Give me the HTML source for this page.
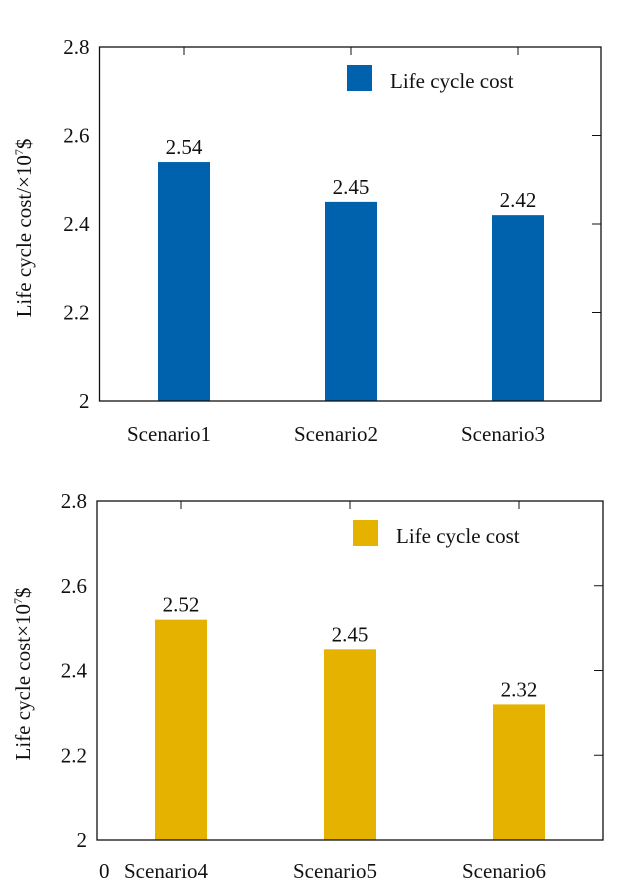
<!DOCTYPE html>
<html><head><meta charset="utf-8"><style>
html,body{margin:0;padding:0;background:#fff;}
svg{display:block;font-family:"Liberation Serif",serif;}
</style></head><body>
<svg id="chart" width="619" height="889" viewBox="0 0 619 889" xmlns="http://www.w3.org/2000/svg"></svg>
<script>
const categoriesTop = ["Scenario1","Scenario2","Scenario3"];
const valuesTop = [2.54,2.45,2.42];
const categoriesBottom = ["Scenario4","Scenario5","Scenario6"];
const valuesBottom = [2.52,2.45,2.32];
const yTicks = [2,2.2,2.4,2.6,2.8];
const yTickLabels = ["2","2.2","2.4","2.6","2.8"];
const legendLabel = "Life cycle cost";

const NS="http://www.w3.org/2000/svg";
const svg=document.getElementById('chart');
function mk(tag,attrs,parent){const e=document.createElementNS(NS,tag);for(const k in attrs)e.setAttribute(k,attrs[k]);(parent||svg).appendChild(e);return e;}

function drawPanel(cfg){
  const g=mk('g',{});
  
  
  const {x0,x1,y0,y1}=cfg;
  const yScale=v=>y1-(v-2)/(2.8-2)*(y1-y0);
  const step=(cfg.c2-cfg.c0)/2;
  const xScale=i=>cfg.c0+i*step;
  cfg.values.forEach((v,i)=>{
    const cx=xScale(i);
    const b=mk('rect',{x:cx-26,y:yScale(v),width:52,height:yScale(2)-yScale(v),fill:cfg.color},g);
    
    
    const t=mk('text',{x:cx,y:yScale(v)-8,'text-anchor':'middle','font-size':21,fill:'#111'},g);
    
    
    t.textContent=v.toFixed(2);
    const tk=mk('line',{x1:cx,x2:cx,y1:y0,y2:y0+8,stroke:'#111','stroke-width':1},g);
    
    
    const xl=mk('text',{x:cx-15,y:cfg.xlabY,'text-anchor':'middle','font-size':21,fill:'#111'},g);
    
    
    xl.textContent=cfg.cats[i];
  });
  const fr=mk('rect',{x:x0,y:y0,width:x1-x0,height:y1-y0,fill:'none',stroke:'#111','stroke-width':1.3},g);
  
  
  yTicks.forEach((v,i)=>{
    const y=yScale(v);
    if(i>0&&i<yTicks.length-1){
      const rt=mk('line',{x1:x1-9,x2:x1,y1:y,y2:y,stroke:'#111','stroke-width':1},g);
      
      
    }
    const t=mk('text',{x:x0-10,y:y+7,'text-anchor':'end','font-size':21,fill:'#111'},g);
    
    
    t.textContent=yTickLabels[i];
  });
  const ls=mk('rect',{x:cfg.legX,y:cfg.legY,width:25,height:26,fill:cfg.color},g);
  
  
  const lt=mk('text',{x:cfg.legX+43,y:cfg.legY+23,'font-size':21,fill:'#111'},g);
  
  
  lt.textContent=legendLabel;
  const yt=mk('text',{x:0,y:0,'text-anchor':'middle','font-size':21,fill:'#111',transform:`translate(${cfg.ytX},${cfg.ytY}) rotate(-90)`},g);
  
  
  yt.innerHTML=cfg.ytitle+'10<tspan font-size="12" dy="-8">7</tspan><tspan dy="8">$</tspan>';
  return g;
}

drawPanel({name:'top-chart',x0:99.5,x1:601,y0:47,y1:401,c0:184,c2:518,values:valuesTop,cats:categoriesTop,color:'#0062AC',xlabY:441,legX:347,legY:65,ytX:31,ytY:228,ytitle:'Life cycle cost/×'});
drawPanel({name:'bottom-chart',x0:97,x1:603,y0:501,y1:840,c0:181,c2:519,values:valuesBottom,cats:categoriesBottom,color:'#E5B200',xlabY:878,legX:353,legY:520,ytX:30,ytY:674,ytitle:'Life cycle cost×'});
const z=mk('text',{x:99,y:878,'font-size':21,fill:'#111'});


z.textContent='0';
</script>
</body></html>
